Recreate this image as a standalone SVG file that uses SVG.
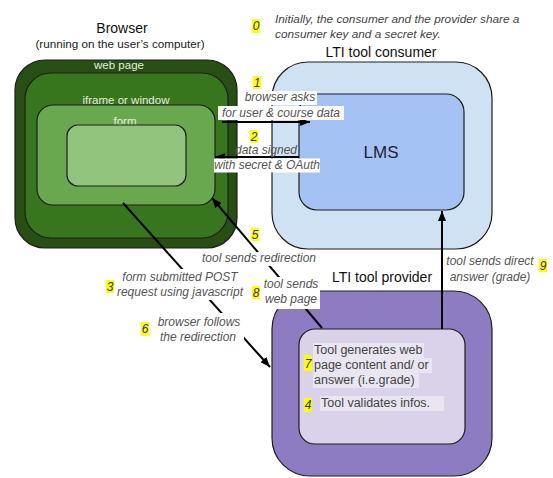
<svg xmlns="http://www.w3.org/2000/svg" width="553" height="478" viewBox="0 0 553 478">
  <style>
    text { font-family: "Liberation Sans", Arial, sans-serif; }
    .title { font-size: 14px; fill: #111; text-anchor: middle; }
    .sub { font-size: 11.7px; fill: #222; text-anchor: middle; }
    .inner { font-size: 11.5px; fill: #e4ecdf; text-anchor: middle; }
    .lbl { font-size: 12px; font-style: italic; fill: #555; text-anchor: middle; }
    .note { font-size: 11.8px; font-style: italic; fill: #444; }
    .num { font-size: 12px; font-style: italic; fill: #333; text-anchor: middle; }
    .hl { fill: #ffff00; }
    .bg { fill: #ffffff; }
    .tbg { fill: #e9e5f1; }
    .body { font-size: 12.5px; fill: #444; }
    .box { stroke: #1e1e1e; stroke-width: 1.2; }
    .conn { stroke: #000; stroke-width: 2; fill: none; }
  </style>
  <defs>
    <marker id="ah" markerWidth="10" markerHeight="8" refX="10" refY="4" orient="auto" markerUnits="userSpaceOnUse">
      <path d="M0,0 L10,4 L0,8 z" fill="#000"/>
    </marker>
  </defs>

  <rect width="553" height="478" fill="#ffffff"/>

  <!-- intro note -->
  <g id="note0">
    <rect class="hl" x="252" y="19" width="8" height="14"/>
    <text class="num" x="256" y="30">0</text>
    <text class="note" x="275" y="23">Initially, the consumer and the provider share a</text>
    <text class="note" x="275" y="38">consumer key and a secret key.</text>
  </g>

  <!-- browser side -->
  <g id="browser">
    <text class="title" x="122" y="33">Browser</text>
    <text class="sub" x="120" y="48">(running on the user’s computer)</text>
    <rect class="box" x="15" y="60" width="222" height="188" rx="30" fill="#274e13"/>
    <text class="inner" x="119" y="69">web page</text>
    <rect class="box" x="25" y="73" width="203" height="165" rx="26" fill="#38761d"/>
    <text class="inner" x="126" y="104">iframe or window</text>
    <rect class="box" x="37" y="105" width="178" height="100" rx="16" fill="#6aa84f"/>
    <text class="inner" x="125" y="125">form</text>
    <rect class="box" x="67" y="125" width="119" height="61" rx="11" fill="#93c47d"/>
  </g>

  <!-- consumer side -->
  <g id="consumer">
    <text class="title" x="381" y="57">LTI tool consumer</text>
    <rect class="box" x="272" y="62" width="220" height="187" rx="36" fill="#cfe2f3"/>
  </g>
  <g id="lms">
    <rect class="box" x="299" y="94" width="165" height="116" rx="18" fill="#a4c2f4"/>
    <text x="381" y="158" font-size="17" fill="#1c2433" text-anchor="middle">LMS</text>
  </g>

  <!-- provider side -->
  <g id="provider">
    <text class="title" x="382" y="282">LTI tool provider</text>
    <rect class="box" x="272" y="291" width="220" height="185" rx="38" fill="#8e7cc3"/>
  </g>
  <g id="tool">
    <rect class="box" x="299" y="329" width="166" height="115" rx="16" fill="#d9d2e9"/>
    <rect class="tbg" x="313" y="343" width="111" height="15"/>
    <rect class="tbg" x="313" y="358" width="119" height="15"/>
    <rect class="tbg" x="313" y="373" width="106" height="15"/>
    <rect class="tbg" x="320" y="396" width="124" height="15"/>
    <rect class="hl" x="304" y="355" width="8" height="16"/>
    <text class="num" x="308" y="368" font-size="12.5">7</text>
    <text class="body" x="314" y="354">Tool generates web</text>
    <text class="body" x="314" y="369">page content and/ or</text>
    <text class="body" x="314" y="384">answer (i.e.grade)</text>
    <rect class="hl" x="304" y="398" width="8" height="14"/>
    <text class="num" x="308" y="409" font-size="12.5">4</text>
    <text class="body" x="321" y="407">Tool validates infos.</text>
  </g>

  <!-- connectors -->
  <g id="connectors">
    <line class="conn" x1="222" y1="122" x2="310" y2="122" marker-end="url(#ah)"/>
    <line class="conn" x1="299" y1="157" x2="215" y2="157" marker-end="url(#ah)"/>
    <line class="conn" x1="123" y1="203" x2="270" y2="367" marker-end="url(#ah)"/>
    <line class="conn" x1="322" y1="328" x2="212" y2="198" marker-end="url(#ah)"/>
    <line class="conn" x1="442" y1="329" x2="442" y2="211" marker-end="url(#ah)"/>
  </g>

  <!-- connector labels -->
  <g id="labels">
    <rect class="hl" x="253" y="76" width="8" height="13"/>
    <text class="num" x="257" y="87">1</text>
    <rect class="bg" x="241" y="91" width="76" height="14"/>
    <text class="lbl" x="280" y="101">browser asks</text>
    <rect class="bg" x="218" y="106" width="126" height="14"/>
    <text class="lbl" x="281" y="117">for user &amp; course data</text>

    <rect class="hl" x="250" y="130" width="8" height="13"/>
    <text class="num" x="254" y="141">2</text>
    <text class="lbl" x="266" y="154">data signed</text>
    <rect class="bg" x="214" y="158.5" width="106" height="14"/>
    <text class="lbl" x="267" y="169">with secret &amp; OAuth</text>

    <rect class="bg" x="106" y="269" width="138" height="31"/>
    <rect class="hl" x="106" y="280" width="8" height="13"/>
    <text class="num" x="110" y="291">3</text>
    <text class="lbl" x="180" y="281">form submitted POST</text>
    <text class="lbl" x="180" y="296">request using javascript</text>

    <rect class="hl" x="251" y="228" width="8" height="13"/>
    <text class="num" x="255" y="239">5</text>
    <rect class="bg" x="198" y="252" width="122" height="14"/>
    <text class="lbl" x="259" y="262">tool sends redirection</text>

    <rect class="bg" x="261" y="277" width="59" height="32"/>
    <rect class="hl" x="252" y="286" width="8" height="13"/>
    <text class="num" x="256" y="297">8</text>
    <text class="lbl" x="291" y="288">tool sends</text>
    <text class="lbl" x="291" y="303">web page</text>

    <rect class="bg" x="154" y="313" width="90" height="31"/>
    <rect class="hl" x="141" y="322" width="8" height="14"/>
    <text class="num" x="145" y="333">6</text>
    <text class="lbl" x="199" y="326">browser follows</text>
    <text class="lbl" x="198" y="341">the redirection</text>

    <text class="lbl" x="490" y="265">tool sends direct</text>
    <text class="lbl" x="490" y="281">answer (grade)</text>
    <rect class="hl" x="539" y="259" width="8" height="13"/>
    <text class="num" x="543" y="270">9</text>
  </g>
</svg>
